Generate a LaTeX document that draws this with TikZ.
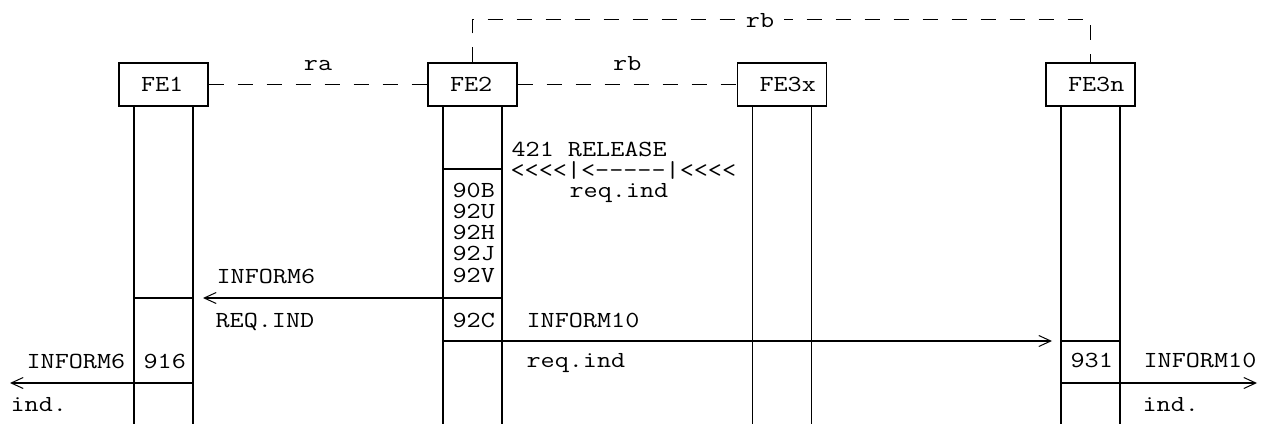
\documentclass[tikz,border=0pt]{standalone}
\usepackage{fontspec}
\usepackage{graphicx}
\usetikzlibrary{arrows.meta}
\newcommand{\tx}[1]{\scalebox{1.19}[1]{#1}}
\begin{document}
\begin{tikzpicture}[x=1pt,y=-1pt,
  font=\ttfamily\fontsize{23}{21.3}\selectfont,
  line width=1.2pt,
  fe/.style={draw, minimum width=89pt, minimum height=43pt, inner sep=0pt},
  txt/.style={anchor=base west, inner sep=0pt},
  msg/.style={-{Straight Barb[length=12pt,width=11pt,line width=1pt]}, line width=1.1pt},
  iface/.style={dash pattern=on 15pt off 14pt},
  lbl/.style={anchor=base, inner sep=0pt, yshift=13.5pt}]
\useasboundingbox (0,0) rectangle (1263,425);

% functional entities
\node[fe] (fe1)  at (163.5,84.5) {\makebox[45pt][l]{\tx{FE1}}};
\node[fe] (fe2)  at (472.5,84.5) {\makebox[45pt][l]{\tx{FE2}}};
\node[fe] (fe3x) at (782,84.5)   {\makebox[45pt][l]{\tx{FE3x}}};
\node[fe] (fe3n) at (1090.5,84.5){\makebox[45pt][l]{\tx{FE3n}}};

% lifelines
\foreach \n in {fe1,fe2,fe3x,fe3n}{
  \draw ([xshift=-29.5pt]\n.south) -- ++(0,317);
  \draw ([xshift=29.5pt]\n.south) -- ++(0,317);
}

% relationships
\draw[iface] (fe1.east) -- node[lbl]{\tx{ra}} (fe2.west);
\draw[iface] (fe2.east) -- node[lbl]{\tx{rb}} (fe3x.west);
\draw[iface] (fe2.north) -- ++(0,-43) -| (fe3n.north);
\node[fill=white, inner xsep=10pt, inner ysep=1pt] (rbtop) at (760,21) {\tx{rb}};

% coordinates
\coordinate (a1) at (443,169);  \coordinate (a2) at (502,169);
\coordinate (b1) at (443,298);  \coordinate (b2) at (502,298);
\coordinate (c1) at (134,298);  \coordinate (c2) at (193,298);
\coordinate (m1end) at (203,298);
\coordinate (m2start) at (443,341); \coordinate (m2end) at (1052,341);
\coordinate (d1) at (1061,341); \coordinate (d2) at (1120,341);
\coordinate (m3start) at (193,383); \coordinate (m3end) at (10,383);
\coordinate (m4start) at (1061,383); \coordinate (m4end) at (1257,383);

% FE2 processing
\draw (a1) -- (a2);
\node[txt] (t1) at (511,157) {\tx{421 RELEASE}};
\node[txt] (t2) at (510,177) {\tx{<<<<|<-\kern0pt-\kern0pt-\kern0pt-\kern0pt-|<<<<}};
\node[txt] (t3) at (569,197) {\tx{req.ind}};
\node[txt] (s1) at (452,197) {\tx{90B}};
\node[txt] (s2) at (452,218.3) {\tx{92U}};
\node[txt] (s3) at (452,239.6) {\tx{92H}};
\node[txt] (s4) at (452,260.9) {\tx{92J}};
\node[txt] (s5) at (452,282.2) {\tx{92V}};

% INFORM6 to FE1
\draw (b1) -- (b2);
\draw[msg] (b1) -- (m1end);
\draw (c1) -- (c2);
\node[txt] (i6a) at (216,283) {\tx{INFORM6}};
\node[txt] (i6b) at (215,327) {\tx{REQ.IND}};

% INFORM10 to FE3n
\node[txt] (s6) at (452,327) {\tx{92C}};
\draw[msg] (m2start) -- (m2end);
\draw (d1) -- (d2);
\node[txt] (i10a) at (526,327) {\tx{INFORM10}};
\node[txt] (i10b) at (526,367) {\tx{req.ind}};

% FE1 indication
\draw[msg] (m3start) -- (m3end);
\node[txt] (n916) at (143,368) {\tx{916}};
\node[txt] (i6c) at (26,368) {\tx{INFORM6}};
\node[txt] (i6d) at (10,411) {\tx{ind.}};

% FE3n indication
\draw[msg] (m4start) -- (m4end);
\node[txt] (n931) at (1070,367) {\tx{931}};
\node[txt] (i10c) at (1143,367) {\tx{INFORM10}};
\node[txt] (i10d) at (1142,411) {\tx{ind.}};
\end{tikzpicture}
\end{document}
